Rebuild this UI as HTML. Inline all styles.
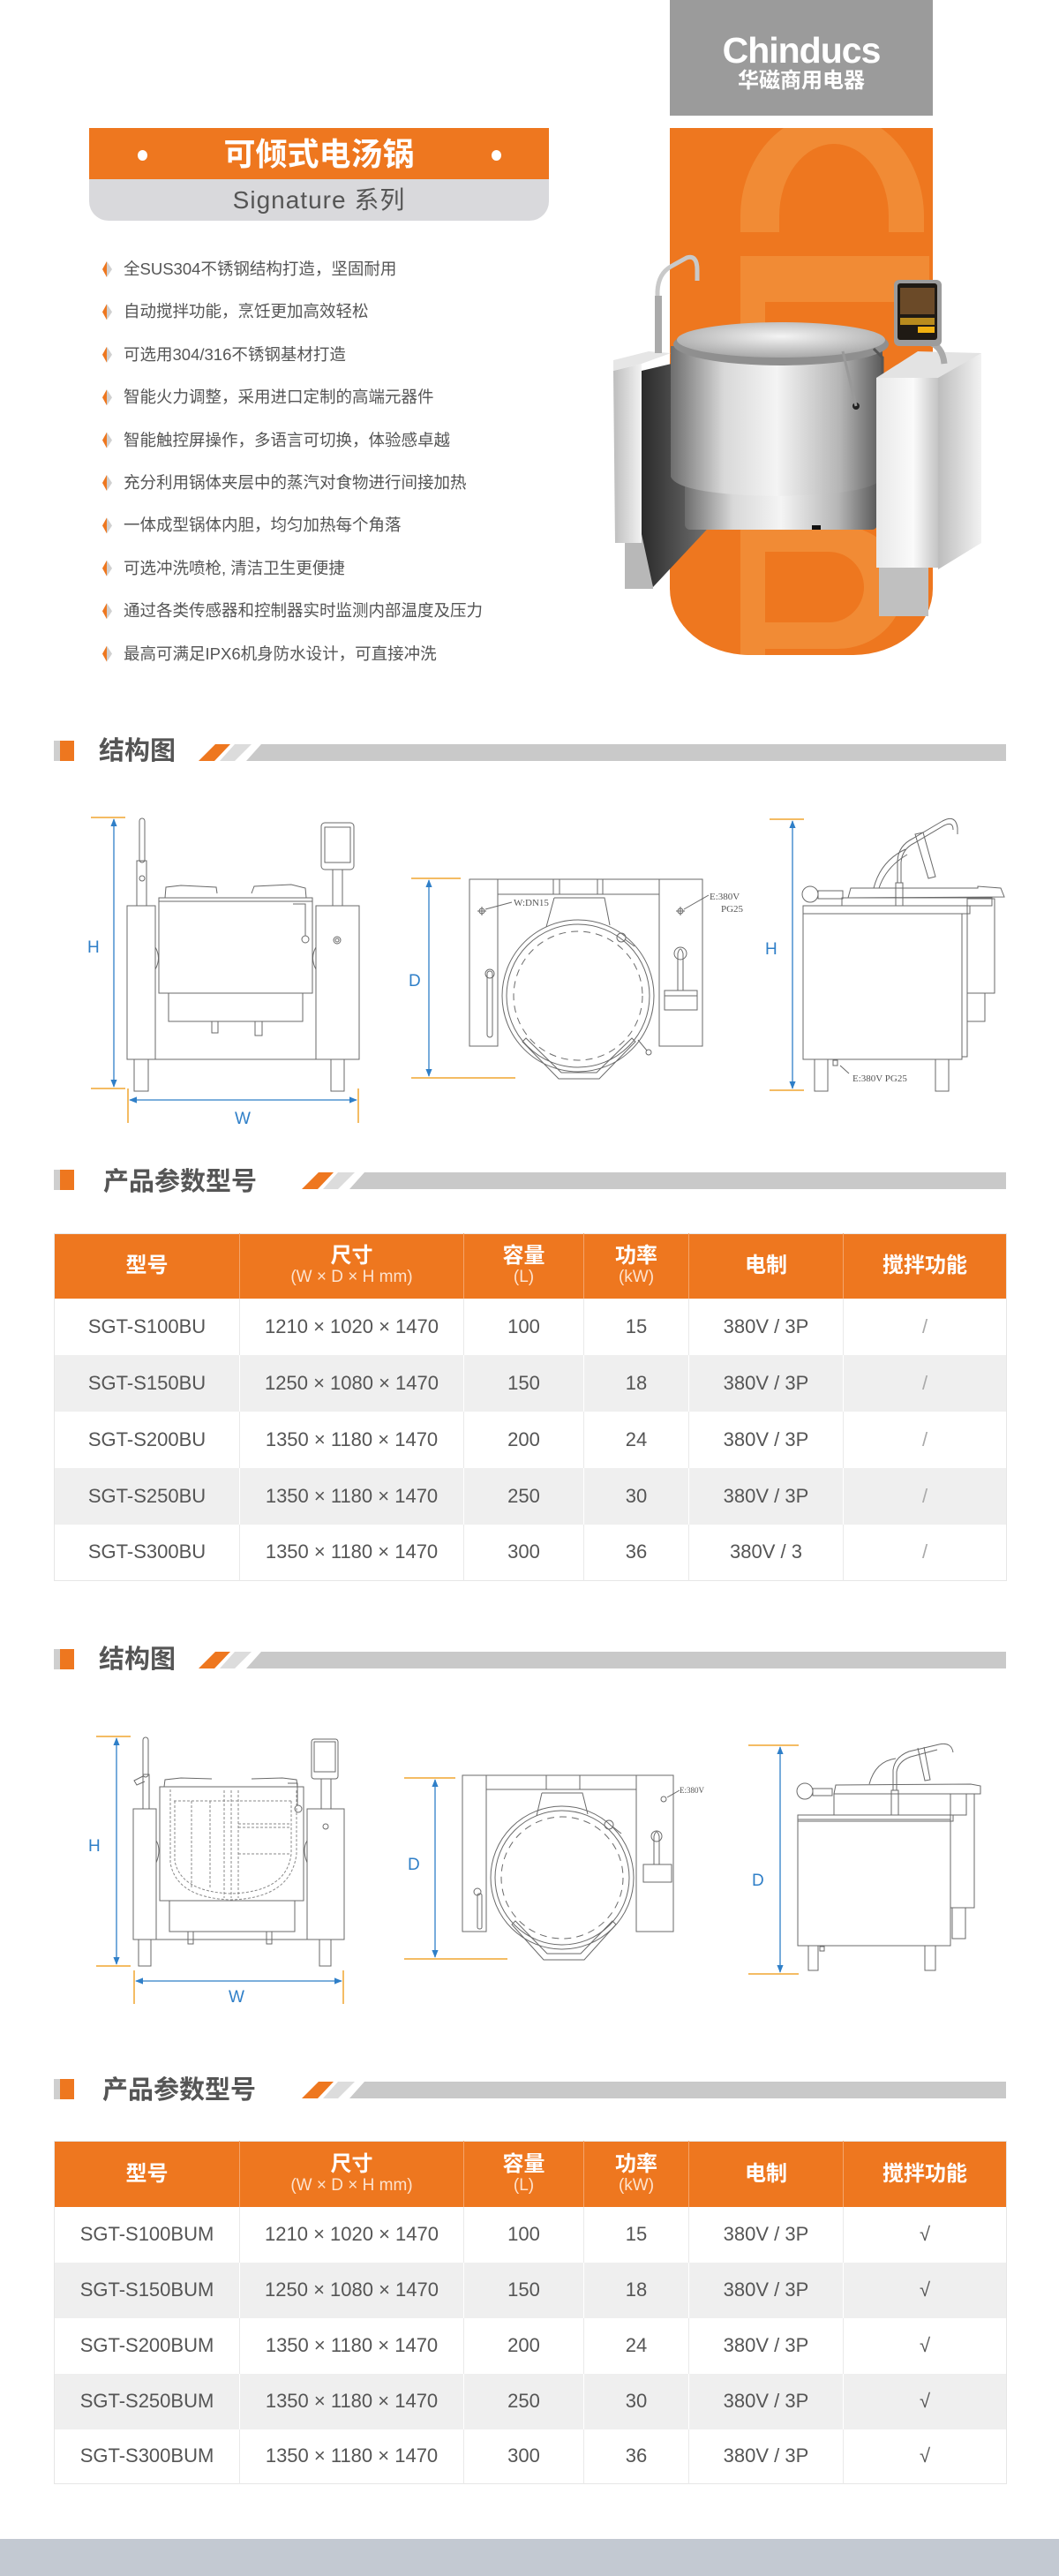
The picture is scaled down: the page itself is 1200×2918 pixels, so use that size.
<!DOCTYPE html>
<html><head><meta charset="utf-8">
<style>
*{margin:0;padding:0;box-sizing:border-box}
body{width:1200px;height:2918px;position:relative;background:#fff;font-family:"Liberation Sans","Noto Sans CJK SC",sans-serif;overflow:hidden}
.abs{position:absolute}
.bul{position:absolute;left:140px;font-size:18.5px;color:#555;line-height:24px;white-space:nowrap}
.sh{position:absolute;left:112px;font-size:29px;font-weight:bold;color:#555;line-height:34px;white-space:nowrap}
table{position:absolute;left:61px;width:1079px;border-collapse:collapse;table-layout:fixed;border:1px solid #e6e6e6}
td,th{text-align:center;color:#555;font-size:22px;font-weight:normal;border-left:1px solid #e9e9e9;white-space:nowrap;padding:0}
th{background:#ee771f;color:#fff;font-weight:bold;font-size:24px;line-height:26px;border-left:1px solid #f4a46a}
th small{display:block;font-weight:normal;font-size:19px;line-height:22px;color:#fde3cf}
tr.g td{background:#efefef;border-left:1px solid #fff}
td.sl{color:#aaa}
</style></head><body>

<!-- logo -->
<div class="abs" style="left:759px;top:0;width:298px;height:131px;background:#9b9b9b"></div>
<div class="abs" style="left:759px;top:34px;width:298px;text-align:center;color:#fff;font-weight:bold;font-size:41px;line-height:46px;letter-spacing:-1px">Chinducs</div>
<div class="abs" style="left:759px;top:78px;width:298px;text-align:center;color:#fff;font-weight:bold;font-size:24px;line-height:28px">华磁商用电器</div>

<!-- orange panel -->
<div class="abs" style="left:759px;top:145px;width:298px;height:597px;background:#ee771f;border-radius:0 0 90px 90px / 0 0 75px 75px;overflow:hidden">
<svg width="298" height="597" style="position:absolute;left:0;top:0">
<path fill="#f18b35" fill-rule="evenodd" d="M80,118 L80,100 A104,118 0 0 1 288,100 L288,118 L248,118 L248,100 A62,82 0 0 0 124,100 L124,118 Z"/>
<rect x="80" y="145" width="214" height="52" fill="#f18b35"/>
<rect x="80" y="197" width="28" height="400" fill="#f18b35"/>
<path fill="#f18b35" d="M80,450 L190,450 A75,70 0 0 1 190,590 L80,590 L80,560 L180,560 A40,40 0 0 0 180,480 L80,480 Z"/>
</svg>
</div>

<!-- title -->
<div class="abs" style="left:101px;top:145px;width:521px;height:58px;background:#ee771f"></div>
<div class="abs" style="left:101px;top:203px;width:521px;height:47px;background:#d9d9dc;border-radius:0 0 22px 22px"></div>
<div class="abs" style="left:156px;top:170px;width:11px;height:12px;border-radius:50%;background:#fff"></div>
<div class="abs" style="left:557px;top:170px;width:11px;height:12px;border-radius:50%;background:#fff"></div>
<div class="abs" style="left:101px;top:153px;width:521px;text-align:center;color:#fff;font-weight:bold;font-size:36px;line-height:44px">可倾式电汤锅</div>
<div class="abs" style="left:101px;top:208px;width:521px;text-align:center;color:#555;font-size:28px;line-height:38px;letter-spacing:1px">Signature 系列</div>

<!-- bullets -->
<svg class="abs" style="left:0;top:0" width="140" height="760">
<defs><g id="b"><polygon points="121,-9 116,0 121,9" fill="#ee771f"/><polygon points="121,-9 127,0 121,9" fill="#d0d0d0"/></g></defs>
<use href="#b" y="305"/><use href="#b" y="353.4"/><use href="#b" y="401.8"/><use href="#b" y="450.2"/><use href="#b" y="498.6"/><use href="#b" y="547"/><use href="#b" y="595.4"/><use href="#b" y="643.8"/><use href="#b" y="692.2"/><use href="#b" y="740.6"/>
</svg>
<div class="bul" style="top:293px">全SUS304不锈钢结构打造，坚固耐用</div>
<div class="bul" style="top:341px">自动搅拌功能，烹饪更加高效轻松</div>
<div class="bul" style="top:390px">可选用304/316不锈钢基材打造</div>
<div class="bul" style="top:438px">智能火力调整，采用进口定制的高端元器件</div>
<div class="bul" style="top:487px">智能触控屏操作，多语言可切换，体验感卓越</div>
<div class="bul" style="top:535px">充分利用锅体夹层中的蒸汽对食物进行间接加热</div>
<div class="bul" style="top:583px">一体成型锅体内胆，均匀加热每个角落</div>
<div class="bul" style="top:632px">可选冲洗喷枪, 清洁卫生更便捷</div>
<div class="bul" style="top:680px">通过各类传感器和控制器实时监测内部温度及压力</div>
<div class="bul" style="top:729px">最高可满足IPX6机身防水设计，可直接冲洗</div>

<!-- product photo -->
<svg class="abs" style="left:0;top:0" width="1200" height="760">
<defs>
<linearGradient id="m1" x1="0" x2="1"><stop offset="0" stop-color="#6d6d6d"/><stop offset=".25" stop-color="#d8d8d8"/><stop offset=".5" stop-color="#f4f4f4"/><stop offset=".8" stop-color="#b5b5b5"/><stop offset="1" stop-color="#5a5a5a"/></linearGradient>
<linearGradient id="m2" x1="0" x2="1"><stop offset="0" stop-color="#e8e8e8"/><stop offset=".6" stop-color="#fafafa"/><stop offset="1" stop-color="#c4c4c4"/></linearGradient>
<linearGradient id="m3" x1="0" x2="1"><stop offset="0" stop-color="#bdbdbd"/><stop offset="1" stop-color="#f2f2f2"/></linearGradient>
<linearGradient id="m4" x1="0" x2="1"><stop offset="0" stop-color="#2a2a2a"/><stop offset="1" stop-color="#7a7a7a"/></linearGradient>
<radialGradient id="lid" cx=".5" cy=".4" r=".6"><stop offset="0" stop-color="#f4f4f4"/><stop offset="1" stop-color="#a9a9a9"/></radialGradient>
</defs>
<rect x="708" y="605" width="32" height="62" fill="#b8b8b8"/>
<polygon points="727,420 812,400 812,588 740,665 727,605" fill="url(#m4)"/>
<polygon points="695,420 727,412 727,615 697,615" fill="url(#m3)"/>
<polygon points="695,420 727,412 760,400 735,398 695,408" fill="#e6e6e6"/>
<path d="M745,400 L745,330 Q746,310 760,302 L778,292 Q790,288 790,306 L790,318" fill="none" stroke="#c9c9c9" stroke-width="5"/>
<rect x="742" y="335" width="8" height="65" fill="#aaa"/>
<rect x="776" y="540" width="218" height="60" rx="6" fill="url(#m1)"/>
<path d="M760,392 L1000,392 L1000,540 Q994,560 880,562 Q768,560 760,540 Z" fill="url(#m1)"/>
<ellipse cx="885" cy="390" rx="122" ry="24" fill="#8f8f8f"/>
<ellipse cx="885" cy="385" rx="118" ry="20" fill="url(#lid)"/>
<path d="M990,395 L1000,405 L1000,440" stroke="#555" stroke-width="3" fill="none"/>
<circle cx="970" cy="460" r="4" fill="#222"/>
<path d="M955,398 L970,460" stroke="#999" stroke-width="3"/>
<rect x="920" y="595" width="10" height="5" fill="#111"/>
<rect x="996" y="640" width="56" height="58" fill="#c0c0c0"/>
<polygon points="1063,425 1112,400 1112,615 1063,645" fill="url(#m3)"/>
<rect x="993" y="428" width="70" height="215" fill="url(#m2)"/>
<polygon points="993,428 1063,428 1112,400 1040,398" fill="#e3e3e3"/>
<path d="M1053,388 Q1068,392 1070,412" stroke="#aaa" stroke-width="7" fill="none"/>
<rect x="1013" y="317" width="54" height="75" rx="6" fill="#9c9c9c"/>
<rect x="1017" y="321" width="45" height="64" rx="3" fill="#1f1a14"/>
<rect x="1020" y="326" width="39" height="30" fill="#6b4a28"/>
<rect x="1020" y="360" width="39" height="8" fill="#b88b1e"/>
<rect x="1040" y="370" width="19" height="7" fill="#f0b010"/>
</svg>

<svg class="abs" style="left:0;top:0" width="1200" height="2918">
<defs>
<g id="sqh"><rect x="61" y="0" width="7" height="23" fill="#cfcfcf"/><rect x="68" y="0" width="16" height="23" fill="#ee771f"/></g>
<g id="st1"><polygon points="225,19 244,0 261,0 243,19" fill="#ee771f"/><polygon points="249,19 266,0 285,0 266,19" fill="#dcdcdc"/></g>
<marker id="ar" viewBox="0 0 10 10" refX="9" refY="5" markerWidth="7" markerHeight="7" orient="auto-start-reverse"><path d="M0,1 L10,5 L0,9 Z" fill="#2f7fc8"/></marker>
</defs>
<use href="#sqh" y="839"/><use href="#st1" y="843"/><polygon points="279,862 296,843 1140,843 1140,862" fill="#c9c9c9"/>
<use href="#sqh" y="1325"/><use href="#st1" x="117" y="1328"/><polygon points="396,1347 413,1328 1140,1328 1140,1347" fill="#c9c9c9"/>
<use href="#sqh" y="1868"/><use href="#st1" y="1871"/><polygon points="279,1890 296,1871 1140,1871 1140,1890" fill="#c9c9c9"/>
<use href="#sqh" y="2355"/><use href="#st1" x="117" y="2358"/><polygon points="396,2377 413,2358 1140,2358 1140,2377" fill="#c9c9c9"/>

<g fill="none" stroke="#6a6a6a" stroke-width="1">
<rect x="144" y="1026" width="32" height="174"/>
<rect x="358" y="1026" width="49" height="174"/>
<rect x="180" y="1017" width="174" height="108"/>
<line x1="180" y1="1021" x2="354" y2="1021"/>
<path d="M187,1017 L188,1005 L205,1003 L245,1005 L246,1012 M285,1012 L288,1004 L330,1002 L346,1006 L347,1017"/>
<rect x="191" y="1125" width="152" height="32"/>
<line x1="176" y1="1200" x2="358" y2="1200"/>
<rect x="152" y="1200" width="16" height="36"/>
<rect x="375" y="1200" width="15" height="36"/>
<rect x="155" y="975" width="11" height="51"/>
<rect x="158" y="927" width="6" height="50" rx="3"/>
<circle cx="161" cy="995" r="3"/>
<rect x="364" y="932" width="37" height="53" rx="4"/>
<rect x="368" y="937" width="29" height="40"/>
<rect x="377" y="985" width="11" height="41"/>
<path d="M332,1024 L346,1024 L346,1060"/><circle cx="346" cy="1064" r="4"/>
<path d="M176,1073 Q183,1085 176,1098"/><path d="M358,1073 Q351,1085 358,1098"/>
<circle cx="382" cy="1065" r="4"/><circle cx="382" cy="1065" r="2"/>
<rect x="240" y="1157" width="7" height="13"/><rect x="289" y="1157" width="8" height="16"/>

<rect x="532" y="996" width="32" height="189"/>
<rect x="747" y="996" width="49" height="189"/>
<line x1="564" y1="996" x2="747" y2="996"/><line x1="564" y1="1013" x2="747" y2="1013"/>
<rect x="634" y="996" width="43" height="17"/>
<line x1="627" y1="996" x2="627" y2="1013"/><line x1="683" y1="996" x2="683" y2="1013"/>
<path d="M628,1017 L685,1017 L691,1048 M628,1017 L619,1050"/>
<circle cx="655" cy="1128" r="86"/>
<circle cx="655" cy="1128" r="81"/>
<circle cx="655" cy="1128" r="73" stroke-dasharray="8,6"/>
<polygon points="592,1180 633,1222 679,1222 720,1180 716,1176 676,1215 636,1215 596,1176"/>
<rect x="552" y="1100" width="6" height="75" rx="3"/>
<circle cx="555" cy="1103" r="5"/>
<path d="M768,1122 L768,1080 Q771,1070 774,1080 L774,1122"/><circle cx="771" cy="1080" r="7"/>
<rect x="753" y="1122" width="37" height="22"/><line x1="753" y1="1128" x2="790" y2="1128"/>
<circle cx="704" cy="1062" r="5"/><path d="M708,1064 L719,1072"/>
<path d="M723,1178 L733,1190"/><circle cx="735" cy="1192" r="3"/>
<circle cx="546" cy="1032" r="3"/><path d="M541,1032 L551,1032 M546,1027 L546,1037 M550,1030 L580,1022"/>
<circle cx="771" cy="1032" r="3"/><path d="M766,1032 L776,1032 M771,1027 L771,1037 M775,1030 L803,1014"/>

<rect x="910" y="1035" width="180" height="165"/>
<rect x="910" y="1026" width="189" height="9"/>
<rect x="1090" y="1035" width="6" height="162"/>
<rect x="1096" y="1018" width="31" height="107"/>
<rect x="1096" y="1125" width="20" height="32"/>
<rect x="954" y="1017" width="170" height="9"/>
<path d="M961,1017 L964,1006 L1108,1006 L1108,1004 L1134,1006 L1138,1016 L961,1017"/>
<circle cx="918" cy="1013" r="9"/><rect x="927" y="1009" width="28" height="9"/>
<rect x="1015" y="1000" width="8" height="26"/>
<path d="M1017,1000 L1017,975 Q1018,958 1034,950 L1068,930 Q1083,922 1085,938 L1085,945"/>
<path d="M1021,1000 L1021,977 Q1022,962 1036,955 L1070,935 Q1080,930 1080,940"/>
<path d="M990,1006 Q998,975 1026,962 M996,1006 Q1004,982 1028,968"/>
<path d="M1037,945 L1052,995 L1060,993 L1046,943 Z"/>
<rect x="923" y="1200" width="15" height="36"/>
<rect x="1060" y="1200" width="15" height="36"/>
<rect x="944" y="1201" width="5" height="6"/><path d="M952,1207 L962,1216"/>

<rect x="151" y="2049" width="26" height="148"/>
<rect x="348" y="2049" width="42" height="148"/>
<rect x="181" y="2024" width="163" height="129"/>
<path d="M186,2024 L187,2016 L205,2014 L240,2015 M285,2015 L320,2014 L336,2016 L337,2024"/>
<rect x="192" y="2153" width="142" height="35"/>
<line x1="177" y1="2197" x2="348" y2="2197"/>
<rect x="157" y="2197" width="14" height="30"/>
<rect x="362" y="2197" width="13" height="30"/>
<rect x="162" y="2010" width="7" height="39"/>
<rect x="162" y="1968" width="6" height="45" rx="3"/>
<path d="M162,2012 L152,2017 L155,2022 L164,2018"/>
<rect x="353" y="1970" width="30" height="45" rx="3"/>
<rect x="356" y="1973" width="24" height="34"/>
<rect x="364" y="2015" width="11" height="34"/>
<path d="M326,2020 L337,2020 L337,2045"/><circle cx="338" cy="2049" r="4"/>
<circle cx="369" cy="2069" r="3"/>
<path d="M177,2085 Q183,2095 177,2110"/><path d="M348,2085 Q342,2095 348,2110"/>
<rect x="213" y="2188" width="6" height="14"/><rect x="302" y="2188" width="6" height="14"/>
<g stroke="#888" stroke-dasharray="3,2">
<path d="M193,2027 L193,2110 Q200,2150 262,2152 Q330,2150 336,2100 L336,2027"/>
<path d="M198,2040 L198,2108 Q205,2143 262,2145 Q325,2143 330,2100 L330,2040"/>
<path d="M197,2040 L330,2040"/>
<path d="M217,2040 L217,2140 M238,2040 L238,2140 M254,2028 L254,2150 M262,2028 L262,2150 M270,2028 L270,2150"/>
<path d="M270,2066 L329,2066 M270,2070 L329,2070 M270,2100 L329,2100"/>
</g>

<rect x="524" y="2011" width="27" height="177"/>
<rect x="721" y="2011" width="42" height="177"/>
<line x1="551" y1="2011" x2="721" y2="2011"/><line x1="551" y1="2027" x2="721" y2="2027"/>
<rect x="619" y="2011" width="38" height="16"/>
<path d="M614,2031 L660,2031 L666,2055 M614,2031 L608,2057"/>
<circle cx="637" cy="2127" r="81"/>
<circle cx="637" cy="2127" r="76"/>
<circle cx="637" cy="2127" r="69" stroke-dasharray="8,6"/>
<polygon points="580,2180 616,2220 662,2220 698,2180 694,2176 658,2213 620,2213 584,2176"/>
<rect x="541" y="2145" width="5" height="40" rx="2"/><circle cx="541" cy="2143" r="4"/>
<path d="M741,2112 L741,2080 Q744,2070 747,2080 L747,2112"/><circle cx="744" cy="2080" r="6"/>
<rect x="729" y="2112" width="32" height="20"/>
<circle cx="690" cy="2067" r="5"/><path d="M694,2069 L704,2077"/>
<circle cx="752" cy="2038" r="3"/><path d="M756,2036 L770,2028"/>

<rect x="904" y="2061" width="173" height="143"/>
<rect x="904" y="2056" width="176" height="7"/>
<rect x="1077" y="2032" width="27" height="129"/>
<rect x="1079" y="2161" width="15" height="35"/>
<rect x="945" y="2032" width="150" height="24"/>
<path d="M945,2032 L947,2022 L1100,2021 L1111,2023 L1111,2032 Z"/>
<circle cx="912" cy="2029" r="9"/><rect x="921" y="2026" width="22" height="8"/>
<rect x="1010" y="2028" width="8" height="28"/>
<path d="M1012,2028 L1012,2005 Q1014,1990 1030,1984 L1064,1976 Q1078,1973 1080,1985"/>
<path d="M1016,2028 L1016,2007 Q1018,1995 1032,1990 L1062,1982"/>
<path d="M985,2021 Q992,1995 1015,1992 M1040,1980 L1048,2017 L1054,2016 L1047,1979"/>
<rect x="916" y="2204" width="11" height="28"/>
<rect x="1048" y="2204" width="12" height="28"/>
<rect x="929" y="2205" width="5" height="5"/>
</g>

<g stroke="#f0a530" stroke-width="1.5">
<line x1="103" y1="926" x2="142" y2="926"/><line x1="103" y1="1233" x2="142" y2="1233"/>
<line x1="145" y1="1233" x2="145" y2="1272"/><line x1="406" y1="1233" x2="406" y2="1272"/>
<line x1="466" y1="995" x2="522" y2="995"/><line x1="466" y1="1221" x2="584" y2="1221"/>
<line x1="872" y1="928" x2="911" y2="928"/><line x1="872" y1="1235" x2="911" y2="1235"/>
<line x1="109" y1="1967" x2="148" y2="1967"/><line x1="109" y1="2227" x2="148" y2="2227"/>
<line x1="152" y1="2232" x2="152" y2="2270"/><line x1="389" y1="2232" x2="389" y2="2270"/>
<line x1="458" y1="2014" x2="516" y2="2014"/><line x1="458" y1="2219" x2="575" y2="2219"/>
<line x1="848" y1="1977" x2="905" y2="1977"/><line x1="848" y1="2236" x2="905" y2="2236"/>
</g>
<g stroke="#2f7fc8" stroke-width="1.3" marker-start="url(#ar)" marker-end="url(#ar)">
<line x1="129" y1="928" x2="129" y2="1231"/>
<line x1="147" y1="1246" x2="404" y2="1246"/>
<line x1="486" y1="997" x2="486" y2="1219"/>
<line x1="898" y1="930" x2="898" y2="1233"/>
<line x1="132" y1="1969" x2="132" y2="2225"/>
<line x1="154" y1="2244" x2="387" y2="2244"/>
<line x1="493" y1="2016" x2="493" y2="2217"/>
<line x1="884" y1="1979" x2="884" y2="2234"/>
</g>
<g fill="#2f7fc8" font-family="Liberation Sans, sans-serif" font-size="19">
<text x="99" y="1079">H</text><text x="266" y="1273">W</text><text x="463" y="1117">D</text><text x="867" y="1081">H</text>
<text x="100" y="2097">H</text><text x="259" y="2268">W</text><text x="462" y="2118">D</text><text x="852" y="2136">D</text>
</g>
<g fill="#555" font-family="Liberation Serif, serif" font-size="11">
<text x="582" y="1026">W:DN15</text>
<text x="804" y="1019">E:380V</text><text x="817" y="1033">PG25</text>
<text x="966" y="1225">E:380V   PG25</text>
<text x="770" y="2031" font-size="9">E:380V</text>
</g>
</svg>

<div class="sh" style="top:834px">结构图</div>
<div class="sh" style="top:1322px;left:117px">产品参数型号</div>
<div class="sh" style="top:1863px">结构图</div>
<div class="sh" style="top:2351px;left:116px">产品参数型号</div>

<table style="top:1397px">
<colgroup><col style="width:210px"><col style="width:254px"><col style="width:136px"><col style="width:119px"><col style="width:175px"><col style="width:185px"></colgroup>
<tr style="height:73px"><th style="border-left:none">型号</th><th>尺寸<small>(W × D × H mm)</small></th><th>容量<small>(L)</small></th><th>功率<small>(kW)</small></th><th>电制</th><th>搅拌功能</th></tr>
<tr style="height:64px"><td style="border-left:none">SGT-S100BU</td><td>1210 × 1020 × 1470</td><td>100</td><td>15</td><td>380V / 3P</td><td class="sl">/</td></tr>
<tr class="g" style="height:64px"><td style="border-left:none">SGT-S150BU</td><td>1250 × 1080 × 1470</td><td>150</td><td>18</td><td>380V / 3P</td><td class="sl">/</td></tr>
<tr style="height:64px"><td style="border-left:none">SGT-S200BU</td><td>1350 × 1180 × 1470</td><td>200</td><td>24</td><td>380V / 3P</td><td class="sl">/</td></tr>
<tr class="g" style="height:64px"><td style="border-left:none">SGT-S250BU</td><td>1350 × 1180 × 1470</td><td>250</td><td>30</td><td>380V / 3P</td><td class="sl">/</td></tr>
<tr style="height:64px"><td style="border-left:none">SGT-S300BU</td><td>1350 × 1180 × 1470</td><td>300</td><td>36</td><td>380V / 3</td><td class="sl">/</td></tr>
</table>

<table style="top:2425px">
<colgroup><col style="width:210px"><col style="width:254px"><col style="width:136px"><col style="width:119px"><col style="width:175px"><col style="width:185px"></colgroup>
<tr style="height:74px"><th style="border-left:none">型号</th><th>尺寸<small>(W × D × H mm)</small></th><th>容量<small>(L)</small></th><th>功率<small>(kW)</small></th><th>电制</th><th>搅拌功能</th></tr>
<tr style="height:63px"><td style="border-left:none">SGT-S100BUM</td><td>1210 × 1020 × 1470</td><td>100</td><td>15</td><td>380V / 3P</td><td>√</td></tr>
<tr class="g" style="height:63px"><td style="border-left:none">SGT-S150BUM</td><td>1250 × 1080 × 1470</td><td>150</td><td>18</td><td>380V / 3P</td><td>√</td></tr>
<tr style="height:63px"><td style="border-left:none">SGT-S200BUM</td><td>1350 × 1180 × 1470</td><td>200</td><td>24</td><td>380V / 3P</td><td>√</td></tr>
<tr class="g" style="height:63px"><td style="border-left:none">SGT-S250BUM</td><td>1350 × 1180 × 1470</td><td>250</td><td>30</td><td>380V / 3P</td><td>√</td></tr>
<tr style="height:62px"><td style="border-left:none">SGT-S300BUM</td><td>1350 × 1180 × 1470</td><td>300</td><td>36</td><td>380V / 3P</td><td>√</td></tr>
</table>

<div class="abs" style="left:0;top:2876px;width:1200px;height:42px;background:#c3c9d2"></div>
</body></html>
